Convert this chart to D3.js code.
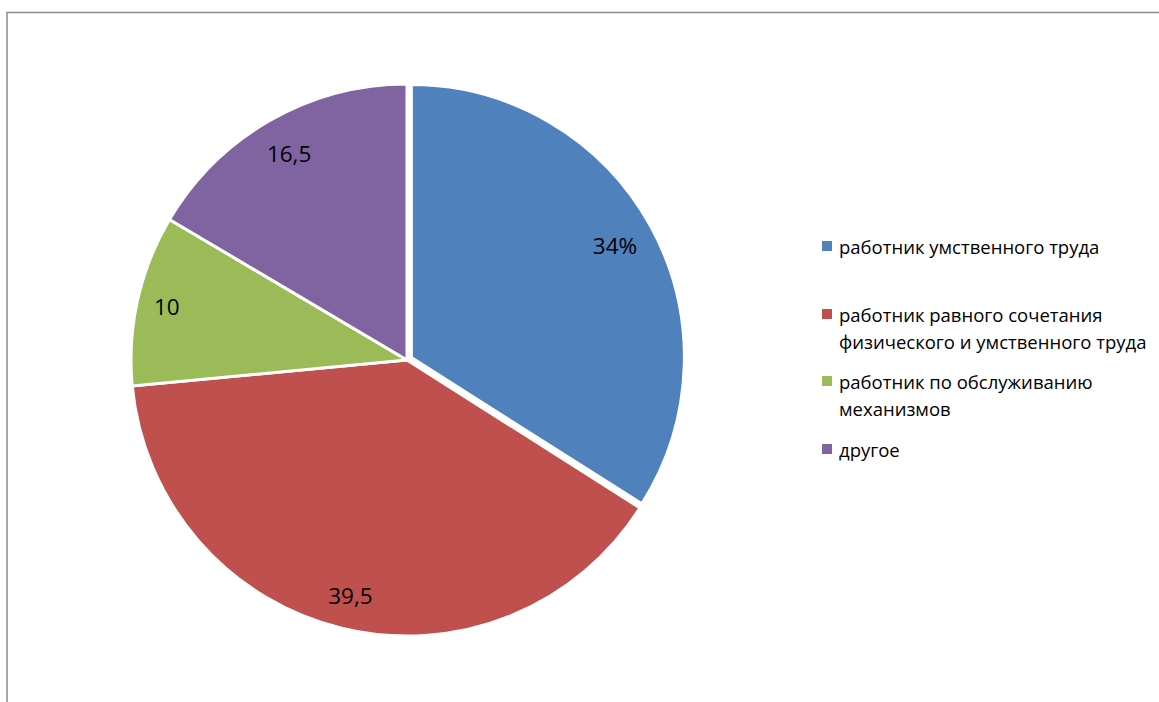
<!DOCTYPE html>
<html>
<head>
<meta charset="utf-8">
<script src="https://cdn.jsdelivr.net/npm/d3@7"></script>
<style>
  html, body { margin: 0; padding: 0; background: #fff; }
  svg { display: block; }
  text { font-family: "Open Sans", "Noto Sans", sans-serif; fill: #000; }
</style>
</head>
<body>
<svg id="chart" width="1159" height="702"></svg>
<script>
// Occupation groups and their shares
const categories = [
  "работник умственного труда",
  "работник равного сочетания\nфизического и умственного труда",
  "работник по обслуживанию\nмеханизмов",
  "другое"
];
const values = [34, 39.5, 10, 16.5];
const valueLabels = ["34%", "39,5", "10", "16,5"];
const colors = ["#4F81BD", "#C0504D", "#9BBB59", "#8064A2"];
const exploded = [true, false, false, false];

// Layout
const W = 1159, H = 702;
const cx = 407, cy = 360;
const radius = 276;
const explodedRadius = 273;
const explodeOffset = 5;
const labelMargin = 14;

const svg = d3.select("#chart");

// Chart-area frame
svg.append("rect")
  .attr("x", 7).attr("y", 12.5)
  .attr("width", W + 50).attr("height", H + 50)
  .attr("fill", "none")
  .attr("stroke", "#8c8c8c")
  .attr("stroke-width", 1.5);

const pie = d3.pie().sort(null).value(d => d).startAngle(0).endAngle(2 * Math.PI);
const arcs = pie(values);

const g = svg.append("g").attr("transform", `translate(${cx},${cy})`);

function sliceShift(d, i) {
  if (!exploded[i]) return [0, 0];
  const mid = (d.startAngle + d.endAngle) / 2;
  return [Math.sin(mid) * explodeOffset, -Math.cos(mid) * explodeOffset];
}

const slices = g.selectAll("g.slice")
  .data(arcs)
  .join("g")
  .attr("class", "slice")
  .attr("transform", (d, i) => {
    const [dx, dy] = sliceShift(d, i);
    return `translate(${dx},${dy})`;
  });

slices.append("path")
  .attr("d", (d, i) => d3.arc().innerRadius(0).outerRadius(exploded[i] ? explodedRadius : radius)(d))
  .attr("fill", (d, i) => colors[i])
  .attr("stroke", "#fff")
  .attr("stroke-width", 3)
  .attr("stroke-linejoin", "miter");

// Value labels placed just inside the outer edge of each slice
slices.append("text")
  .attr("text-anchor", "middle")
  .attr("dominant-baseline", "central")
  .style("font-size", "22.5px")
  .text((d, i) => valueLabels[i])
  .each(function (d, i) {
    const w = this.getComputedTextLength();
    const h = 30;
    const mid = (d.startAngle + d.endAngle) / 2;
    const s = Math.sin(mid), c = Math.cos(mid);
    const r = (exploded[i] ? explodedRadius : radius);
    const extent = Math.abs(s) * w / 2 + Math.abs(c) * h / 2;
    const dist = r - labelMargin - extent;
    d3.select(this).attr("x", s * dist).attr("y", -c * dist);
  });

// Legend
const legendX = 822;
const legendRows = [246, 314, 381, 449];
const lineHeight = 27;
const sw = 10;

const legend = svg.append("g");
const items = legend.selectAll("g.item")
  .data(categories)
  .join("g")
  .attr("class", "item")
  .attr("transform", (d, i) => `translate(${legendX},${legendRows[i]})`);

items.append("rect")
  .attr("x", 0).attr("y", -sw / 2)
  .attr("width", sw).attr("height", sw)
  .attr("fill", (d, i) => colors[i]);

items.append("text")
  .attr("x", 17)
  .style("font-size", "18.5px")
  .attr("dominant-baseline", "central")
  .selectAll("tspan")
  .data(d => d.split("\n"))
  .join("tspan")
  .attr("x", 17)
  .attr("y", (d, j) => j * lineHeight)
  .text(d => d);
</script>
</body>
</html>
